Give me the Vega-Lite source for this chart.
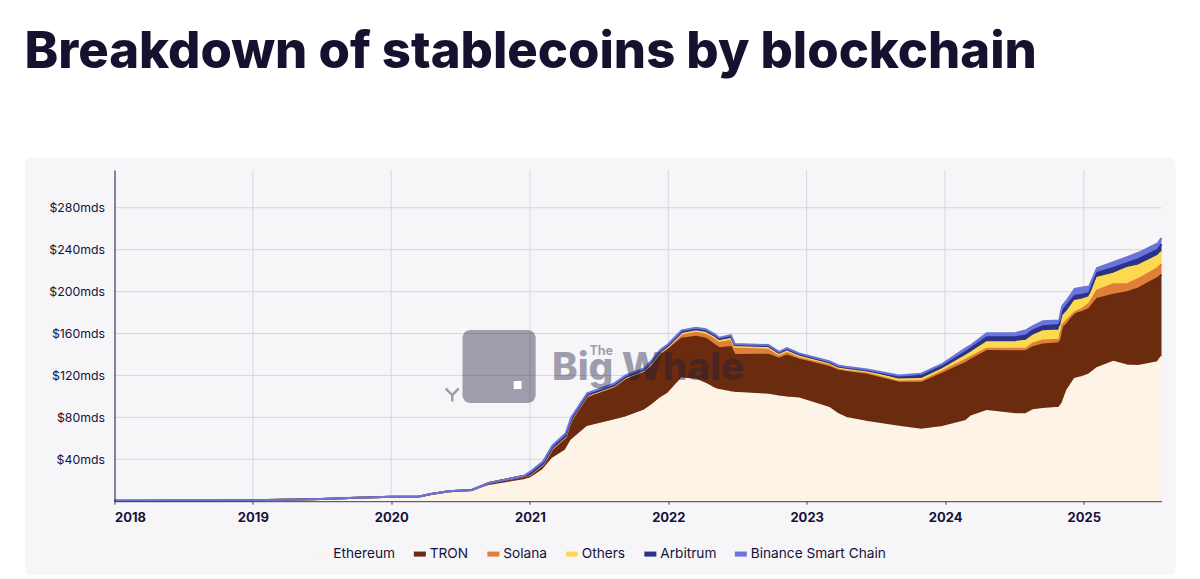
{
  "$schema": "https://vega.github.io/schema/vega-lite/v6.json",
  "width": 1047,
  "height": 331.2,
  "autosize": {"type": "none"},
  "padding": {"left": 114.5, "top": 170, "right": 38.5, "bottom": 77.8},
  "background": "#ffffff",
  "title": {
    "text": "Breakdown of stablecoins by blockchain",
    "anchor": "start",
    "frame": "group",
    "dx": -90,
    "offset": 79,
    "font": "Inter",
    "fontSize": 50.8,
    "fontWeight": 800,
    "color": "#15112f"
  },
  "datasets": {
    "panel": [{"x": "2017-05-10", "x2": "2025-08-31", "y": -70.4, "y2": 327.6}],
    "years": [
      {"year": "2019-01-01"}, {"year": "2020-01-01"}, {"year": "2021-01-01"}, {"year": "2022-01-01"},
      {"year": "2023-01-01"}, {"year": "2024-01-01"}, {"year": "2025-01-01"}
    ],
    "levels": [{"v": 40}, {"v": 80}, {"v": 120}, {"v": 160}, {"v": 200}, {"v": 240}, {"v": 280}],
    "logo": [{"x": "2020-07-07", "x2": "2021-01-16", "y": 93.7, "y2": 163.4}],
    "logoDot": [{"x": "2020-11-19", "x2": "2020-12-10", "y": 107, "y2": 114.7}],
    "tail": [{"x": "2020-06-10", "y": 101.3}],
    "brandBig": [{"x": "2021-02-28", "y": 116, "label": "Big Whale"}],
    "brandThe": [{"x": "2021-06-07", "y": 139.5, "label": "The"}],
    "supply": [
      {"date": "2018-01-01", "Ethereum": 0.5, "TRON": 0, "Solana": 0, "Others": 0, "Arbitrum": 0, "Binance Smart Chain": 0},
      {"date": "2018-10-01", "Ethereum": 0.7, "TRON": 0, "Solana": 0, "Others": 0, "Arbitrum": 0, "Binance Smart Chain": 0},
      {"date": "2019-01-01", "Ethereum": 1.0, "TRON": 0, "Solana": 0, "Others": 0, "Arbitrum": 0, "Binance Smart Chain": 0},
      {"date": "2019-07-01", "Ethereum": 2.0, "TRON": 0, "Solana": 0, "Others": 0, "Arbitrum": 0, "Binance Smart Chain": 0},
      {"date": "2019-10-01", "Ethereum": 3.2, "TRON": 0, "Solana": 0, "Others": 0, "Arbitrum": 0, "Binance Smart Chain": 0},
      {"date": "2020-01-01", "Ethereum": 4.3, "TRON": 0, "Solana": 0, "Others": 0, "Arbitrum": 0, "Binance Smart Chain": 0},
      {"date": "2020-03-15", "Ethereum": 4.5, "TRON": 0, "Solana": 0, "Others": 0, "Arbitrum": 0, "Binance Smart Chain": 0},
      {"date": "2020-04-15", "Ethereum": 6.5, "TRON": 0.4, "Solana": 0, "Others": 0, "Arbitrum": 0, "Binance Smart Chain": 0},
      {"date": "2020-06-01", "Ethereum": 8.6, "TRON": 0.8, "Solana": 0, "Others": 0, "Arbitrum": 0, "Binance Smart Chain": 0},
      {"date": "2020-08-01", "Ethereum": 9.2, "TRON": 1.5, "Solana": 0, "Others": 0, "Arbitrum": 0, "Binance Smart Chain": 0},
      {"date": "2020-09-15", "Ethereum": 14.5, "TRON": 3, "Solana": 0, "Others": 0, "Arbitrum": 0, "Binance Smart Chain": 0},
      {"date": "2020-12-15", "Ethereum": 20, "TRON": 4, "Solana": 0, "Others": 0, "Arbitrum": 0, "Binance Smart Chain": 0},
      {"date": "2021-01-01", "Ethereum": 21.6, "TRON": 3.4, "Solana": 0, "Others": 0.3, "Arbitrum": 0.3, "Binance Smart Chain": 2.3},
      {"date": "2021-02-05", "Ethereum": 30, "TRON": 5, "Solana": 0, "Others": 0.3, "Arbitrum": 0.5, "Binance Smart Chain": 2.2},
      {"date": "2021-03-01", "Ethereum": 40.6, "TRON": 9.4, "Solana": 0.1, "Others": 0.3, "Arbitrum": 0.5, "Binance Smart Chain": 2.1},
      {"date": "2021-04-05", "Ethereum": 48.6, "TRON": 12.4, "Solana": 0.2, "Others": 0.3, "Arbitrum": 0.6, "Binance Smart Chain": 2.5},
      {"date": "2021-04-20", "Ethereum": 58, "TRON": 19, "Solana": 0.2, "Others": 0.3, "Arbitrum": 0.6, "Binance Smart Chain": 1.9},
      {"date": "2021-06-01", "Ethereum": 70.8, "TRON": 29.2, "Solana": 0.3, "Others": 0.3, "Arbitrum": 0.6, "Binance Smart Chain": 1.8},
      {"date": "2021-08-10", "Ethereum": 77, "TRON": 32, "Solana": 0.3, "Others": 0.4, "Arbitrum": 0.5, "Binance Smart Chain": 1.8},
      {"date": "2021-09-10", "Ethereum": 80, "TRON": 37, "Solana": 0.4, "Others": 0.4, "Arbitrum": 0.6, "Binance Smart Chain": 1.6},
      {"date": "2021-10-30", "Ethereum": 86.7, "TRON": 37.3, "Solana": 0.5, "Others": 0.5, "Arbitrum": 0.6, "Binance Smart Chain": 1.4},
      {"date": "2021-11-20", "Ethereum": 92, "TRON": 39, "Solana": 1, "Others": 0.6, "Arbitrum": 0.8, "Binance Smart Chain": 1.6},
      {"date": "2021-12-10", "Ethereum": 98, "TRON": 42, "Solana": 1.2, "Others": 0.6, "Arbitrum": 0.8, "Binance Smart Chain": 1.4},
      {"date": "2022-01-01", "Ethereum": 103, "TRON": 42, "Solana": 2, "Others": 0.5, "Arbitrum": 1, "Binance Smart Chain": 1.5},
      {"date": "2022-02-05", "Ethereum": 117, "TRON": 38, "Solana": 3.5, "Others": 1.5, "Arbitrum": 1.5, "Binance Smart Chain": 1.5},
      {"date": "2022-03-15", "Ethereum": 116, "TRON": 41, "Solana": 4.5, "Others": 1, "Arbitrum": 1.5, "Binance Smart Chain": 1.5},
      {"date": "2022-04-10", "Ethereum": 112, "TRON": 43, "Solana": 5, "Others": 1, "Arbitrum": 1.5, "Binance Smart Chain": 1.5},
      {"date": "2022-05-05", "Ethereum": 107, "TRON": 41.6, "Solana": 5.4, "Others": 2, "Arbitrum": 1.5, "Binance Smart Chain": 1.5},
      {"date": "2022-05-15", "Ethereum": 106, "TRON": 40, "Solana": 6, "Others": 1, "Arbitrum": 1.5, "Binance Smart Chain": 1.5},
      {"date": "2022-06-15", "Ethereum": 104, "TRON": 43, "Solana": 7, "Others": 1, "Arbitrum": 2, "Binance Smart Chain": 1.5},
      {"date": "2022-06-25", "Ethereum": 103.5, "TRON": 36, "Solana": 7.5, "Others": 0.5, "Arbitrum": 1.5, "Binance Smart Chain": 1},
      {"date": "2022-09-22", "Ethereum": 101.6, "TRON": 38.1, "Solana": 6.3, "Others": 0.5, "Arbitrum": 1.5, "Binance Smart Chain": 1},
      {"date": "2022-10-20", "Ethereum": 100, "TRON": 35.9, "Solana": 3.6, "Others": 0.5, "Arbitrum": 1.5, "Binance Smart Chain": 1},
      {"date": "2022-11-10", "Ethereum": 99, "TRON": 40, "Solana": 4, "Others": 0.5, "Arbitrum": 1.5, "Binance Smart Chain": 1},
      {"date": "2022-12-12", "Ethereum": 98, "TRON": 37, "Solana": 2.5, "Others": 1, "Arbitrum": 1.5, "Binance Smart Chain": 1},
      {"date": "2023-03-01", "Ethereum": 89, "TRON": 39.9, "Solana": 1.1, "Others": 1.5, "Arbitrum": 1, "Binance Smart Chain": 1.1},
      {"date": "2023-03-25", "Ethereum": 83, "TRON": 42, "Solana": 1.5, "Others": 1, "Arbitrum": 1, "Binance Smart Chain": 1},
      {"date": "2023-04-15", "Ethereum": 79.5, "TRON": 44.5, "Solana": 1.2, "Others": 1, "Arbitrum": 1, "Binance Smart Chain": 1},
      {"date": "2023-06-10", "Ethereum": 75.5, "TRON": 46.1, "Solana": 0.9, "Others": 1.3, "Arbitrum": 1, "Binance Smart Chain": 0.9},
      {"date": "2023-09-01", "Ethereum": 71, "TRON": 42.5, "Solana": 1.5, "Others": 1, "Arbitrum": 2.5, "Binance Smart Chain": 1.5},
      {"date": "2023-10-30", "Ethereum": 68.2, "TRON": 45.4, "Solana": 1.4, "Others": 1.5, "Arbitrum": 3.2, "Binance Smart Chain": 1.9},
      {"date": "2023-12-25", "Ethereum": 70.8, "TRON": 51.2, "Solana": 2, "Others": 2, "Arbitrum": 3, "Binance Smart Chain": 2},
      {"date": "2024-02-25", "Ethereum": 76.5, "TRON": 55.5, "Solana": 3, "Others": 4, "Arbitrum": 3.5, "Binance Smart Chain": 3.5},
      {"date": "2024-03-10", "Ethereum": 81, "TRON": 54, "Solana": 3, "Others": 4, "Arbitrum": 4, "Binance Smart Chain": 3},
      {"date": "2024-04-20", "Ethereum": 86, "TRON": 57.2, "Solana": 2.2, "Others": 6.3, "Arbitrum": 4.8, "Binance Smart Chain": 3.8},
      {"date": "2024-07-05", "Ethereum": 83, "TRON": 60, "Solana": 2.4, "Others": 6.6, "Arbitrum": 4.5, "Binance Smart Chain": 4},
      {"date": "2024-08-01", "Ethereum": 83, "TRON": 60.2, "Solana": 2.2, "Others": 7.6, "Arbitrum": 5, "Binance Smart Chain": 4.9},
      {"date": "2024-08-20", "Ethereum": 86.7, "TRON": 60.3, "Solana": 3.5, "Others": 7.5, "Arbitrum": 5, "Binance Smart Chain": 4},
      {"date": "2024-09-15", "Ethereum": 88, "TRON": 61.5, "Solana": 3.8, "Others": 8.9, "Arbitrum": 4.8, "Binance Smart Chain": 4.7},
      {"date": "2024-10-28", "Ethereum": 89.2, "TRON": 61.6, "Solana": 3.2, "Others": 8.8, "Arbitrum": 5.2, "Binance Smart Chain": 4.4},
      {"date": "2024-11-05", "Ethereum": 93, "TRON": 71.4, "Solana": 3.6, "Others": 8, "Arbitrum": 5, "Binance Smart Chain": 5},
      {"date": "2024-11-18", "Ethereum": 105.7, "TRON": 63.3, "Solana": 4, "Others": 8, "Arbitrum": 6, "Binance Smart Chain": 5},
      {"date": "2024-12-08", "Ethereum": 116.8, "TRON": 61.9, "Solana": 1.6, "Others": 10.7, "Arbitrum": 4.8, "Binance Smart Chain": 6.7},
      {"date": "2024-12-28", "Ethereum": 118.5, "TRON": 62, "Solana": 3, "Others": 9, "Arbitrum": 4.5, "Binance Smart Chain": 7},
      {"date": "2025-01-15", "Ethereum": 121, "TRON": 62.5, "Solana": 4.8, "Others": 6.3, "Arbitrum": 3.8, "Binance Smart Chain": 6.4},
      {"date": "2025-02-05", "Ethereum": 127, "TRON": 66, "Solana": 8, "Others": 12, "Arbitrum": 5, "Binance Smart Chain": 4.5},
      {"date": "2025-03-20", "Ethereum": 133, "TRON": 64, "Solana": 10, "Others": 10, "Arbitrum": 5.6, "Binance Smart Chain": 5.4},
      {"date": "2025-04-25", "Ethereum": 129.5, "TRON": 69.8, "Solana": 7.7, "Others": 15.5, "Arbitrum": 4.5, "Binance Smart Chain": 5.8},
      {"date": "2025-05-25", "Ethereum": 129, "TRON": 74, "Solana": 9, "Others": 13, "Arbitrum": 6, "Binance Smart Chain": 6},
      {"date": "2025-07-15", "Ethereum": 132.7, "TRON": 80.3, "Solana": 9.5, "Others": 11.5, "Arbitrum": 6, "Binance Smart Chain": 6},
      {"date": "2025-07-25", "Ethereum": 138, "TRON": 78, "Solana": 10, "Others": 11.8, "Arbitrum": 7.2, "Binance Smart Chain": 6}
    ]
  },
  "layer": [
    {
      "data": {"name": "panel"},
      "mark": {"type": "rect", "fill": "#f6f6f9", "cornerRadius": 6, "clip": false},
      "encoding": {
        "x": {"field": "x", "type": "temporal", "title": null},
        "x2": {"field": "x2"},
        "y": {"field": "y", "type": "quantitative", "title": null},
        "y2": {"field": "y2"}
      }
    },
    {
      "data": {"name": "years"},
      "mark": {"type": "rule", "stroke": "#d6d6de", "strokeWidth": 1},
      "encoding": {"x": {"field": "year", "type": "temporal"}}
    },
    {
      "data": {"name": "levels"},
      "mark": {"type": "rule", "stroke": "#d6d6de", "strokeWidth": 1},
      "encoding": {"y": {"field": "v", "type": "quantitative"}}
    },
    {
      "data": {"name": "supply"},
      "transform": [
        {"fold": ["Ethereum", "TRON", "Solana", "Others", "Arbitrum", "Binance Smart Chain"], "as": ["chain", "value"]},
        {"calculate": "indexof(['Ethereum','TRON','Solana','Others','Arbitrum','Binance Smart Chain'], datum.chain)", "as": "rank"}
      ],
      "mark": {"type": "area", "opacity": 1, "line": {"strokeWidth": 2, "opacity": 1}},
      "encoding": {
        "x": {"field": "date", "type": "temporal"},
        "y": {"field": "value", "type": "quantitative", "stack": "zero"},
        "order": {"field": "rank", "type": "quantitative", "sort": "ascending"},
        "color": {
          "field": "chain",
          "type": "nominal",
          "scale": {
            "domain": ["Ethereum", "TRON", "Solana", "Others", "Arbitrum", "Binance Smart Chain"],
            "range": ["#fdf3e6", "#6b2b0e", "#e07f3a", "#fcd94f", "#2b3289", "#6b74db"]
          },
          "legend": {
            "title": null,
            "orient": "none",
            "direction": "horizontal",
            "legendX": 202,
            "legendY": 377,
            "columns": 6,
            "symbolType": "M-1,-0.42H1V0.42H-1Z",
            "symbolSize": 144,
            "symbolStrokeWidth": 0,
            "symbolOpacity": 1,
            "labelFont": "Inter",
            "labelFontSize": 13.7,
            "labelColor": "#16123a",
            "labelOffset": 3,
            "columnPadding": 17.5
          }
        }
      }
    },
    {
      "data": {"name": "logo"},
      "mark": {"type": "rect", "fill": "#1a1a3a", "opacity": 0.4, "cornerRadius": 8},
      "encoding": {
        "x": {"field": "x", "type": "temporal"},
        "x2": {"field": "x2"},
        "y": {"field": "y", "type": "quantitative"},
        "y2": {"field": "y2"}
      }
    },
    {
      "data": {"name": "logoDot"},
      "mark": {"type": "rect", "fill": "#ffffff"},
      "encoding": {
        "x": {"field": "x", "type": "temporal"},
        "x2": {"field": "x2"},
        "y": {"field": "y", "type": "quantitative"},
        "y2": {"field": "y2"}
      }
    },
    {
      "data": {"name": "tail"},
      "mark": {"type": "point", "shape": "M-1,-1L0,0L1,-1M0,0L0,1", "stroke": "#1a1a3a", "strokeWidth": 2.5, "opacity": 0.4, "filled": false, "size": 170},
      "encoding": {
        "x": {"field": "x", "type": "temporal"},
        "y": {"field": "y", "type": "quantitative"}
      }
    },
    {
      "data": {"name": "brandBig"},
      "mark": {"type": "text", "align": "left", "baseline": "alphabetic", "font": "Inter", "fontWeight": 800, "fontSize": 38.7, "fill": "#1a1a3a", "opacity": 0.4},
      "encoding": {
        "x": {"field": "x", "type": "temporal"},
        "y": {"field": "y", "type": "quantitative"},
        "text": {"field": "label"}
      }
    },
    {
      "data": {"name": "brandThe"},
      "mark": {"type": "text", "align": "left", "baseline": "alphabetic", "font": "Inter", "fontWeight": 700, "fontSize": 12.5, "fill": "#1a1a3a", "opacity": 0.4},
      "encoding": {
        "x": {"field": "x", "type": "temporal"},
        "y": {"field": "y", "type": "quantitative"},
        "text": {"field": "label"}
      }
    }
  ],
  "resolve": {"scale": {"x": "shared", "y": "shared"}},
  "encoding": {
    "x": {
      "scale": {"type": "utc", "domain": ["2018-01-01", "2025-07-25"]},
      "axis": {
        "title": null,
        "values": ["2018-01-01", "2019-01-01", "2020-01-01", "2021-01-01", "2022-01-01", "2023-01-01", "2024-01-01", "2025-01-01"],
        "format": "%Y",
        "formatType": "utc",
        "grid": false,
        "zindex": 1,
        "domainColor": "#3a3a58",
        "tickColor": "#3a3a58",
        "tickSize": 3,
        "labelFlush": true,
        "labelPadding": 7,
        "labelFont": "Inter",
        "labelFontWeight": 700,
        "labelFontSize": 13,
        "labelColor": "#16123a"
      }
    },
    "y": {
      "scale": {"domain": [0, 316], "nice": false},
      "axis": {
        "title": null,
        "values": [40, 80, 120, 160, 200, 240, 280],
        "labelExpr": "'$' + datum.value + 'mds'",
        "grid": false,
        "zindex": 1,
        "domainColor": "#16123a",
        "ticks": false,
        "labelPadding": 10,
        "labelFont": "Inter",
        "labelFontSize": 12.3,
        "labelColor": "#16123a"
      }
    }
  }
}
